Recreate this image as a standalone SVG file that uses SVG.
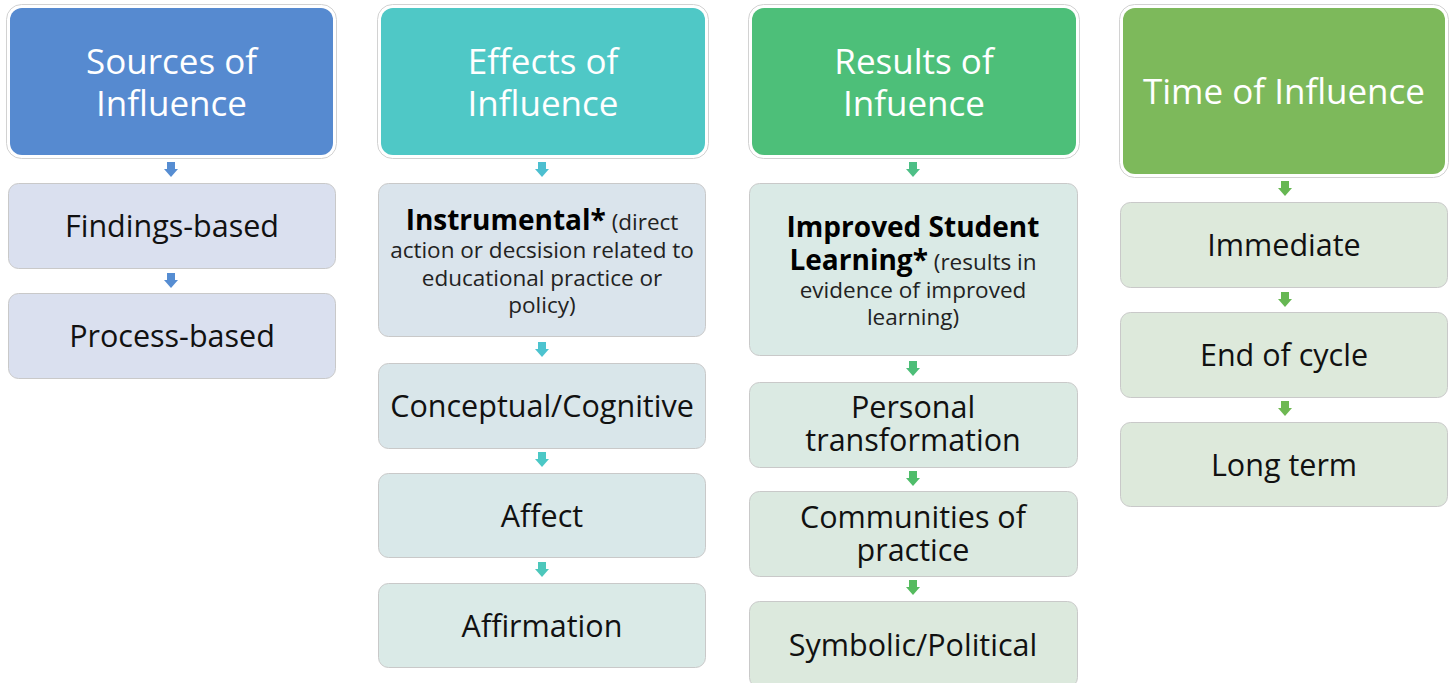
<svg xmlns="http://www.w3.org/2000/svg" width="1450" height="683" viewBox="0 0 1450 683">
<defs>
<style>
.hdrO{fill:#ffffff;stroke:#d2d2d2;stroke-width:1}
.hdrT{font-family:"Open Sans","Noto Sans",sans-serif;font-size:35px;fill:#ffffff;text-anchor:middle}
.box{stroke:#c9c9c9;stroke-width:1}
.t{font-family:"Open Sans","Noto Sans",sans-serif;font-size:30.5px;fill:#111111;text-anchor:middle}
.s{font-family:"Open Sans","Noto Sans",sans-serif;font-size:22.5px;fill:#222222;text-anchor:middle}
.b{font-weight:bold;font-size:28px;fill:#000000}
</style>
<path id="arr" d="M-4,0 H4 V7 H7 L0,15 L-7,7 H-4 Z"/>
</defs>
<rect width="1450" height="683" fill="#ffffff"/>

<g id="connectors">
<use href="#arr" x="171" y="162" fill="#568dd2"/>
<use href="#arr" x="171" y="273" fill="#568dd2"/>
<use href="#arr" x="542" y="162" fill="#4cbfd0"/>
<use href="#arr" x="542" y="342" fill="#4cc3cf"/>
<use href="#arr" x="542" y="452" fill="#4bc8c6"/>
<use href="#arr" x="542" y="562" fill="#4cc7bb"/>
<use href="#arr" x="913" y="162" fill="#4dbf86"/>
<use href="#arr" x="913" y="361" fill="#4dbe78"/>
<use href="#arr" x="913" y="471" fill="#4fbd6a"/>
<use href="#arr" x="913" y="580" fill="#55bb5e"/>
<use href="#arr" x="1285" y="181" fill="#66b752"/>
<use href="#arr" x="1285" y="292" fill="#66b752"/>
<use href="#arr" x="1285" y="401" fill="#6eb852"/>
</g>

<g id="h1">
<rect class="hdrO" x="6.5" y="4.5" width="330" height="154" rx="15"/>
<rect x="10" y="8" width="323" height="147" rx="12" fill="#568ad0"/>
<text class="hdrT" x="171.5" y="74">Sources of<tspan x="171.5" dy="42">Influence</tspan></text>
</g>
<g id="n1a">
<rect class="box" x="8.5" y="183.5" width="327" height="85" rx="10" fill="#dae0ef"/>
<text class="t" x="172" y="237">Findings-based</text>
</g>
<g id="n1b">
<rect class="box" x="8.5" y="293.5" width="327" height="85" rx="10" fill="#dae0ef"/>
<text class="t" x="172" y="347">Process-based</text>
</g>

<g id="h2">
<rect class="hdrO" x="377.5" y="4.5" width="331" height="154" rx="15"/>
<rect x="381" y="8" width="324" height="147" rx="12" fill="#4fc8c6"/>
<text class="hdrT" x="543" y="74">Effects of<tspan x="543" dy="42">Influence</tspan></text>
</g>
<g id="n2a">
<rect class="box" x="378.5" y="183.5" width="327" height="153" rx="10" fill="#dae4ec"/>
<text class="s" x="542" y="230"><tspan class="b">Instrumental*</tspan> (direct<tspan x="542" dy="28">action or decsision related to</tspan><tspan x="542" dy="28">educational practice or</tspan><tspan x="542" dy="27">policy)</tspan></text>
</g>
<g id="n2b">
<rect class="box" x="378.5" y="363.5" width="327" height="85" rx="10" fill="#d9e6ea"/>
<text class="t" x="542" y="417">Conceptual/Cognitive</text>
</g>
<g id="n2c">
<rect class="box" x="378.5" y="473.5" width="327" height="84" rx="10" fill="#d9e8e9"/>
<text class="t" x="542" y="527">Affect</text>
</g>
<g id="n2d">
<rect class="box" x="378.5" y="583.5" width="327" height="84" rx="10" fill="#daeae7"/>
<text class="t" x="542" y="637">Affirmation</text>
</g>

<g id="h3">
<rect class="hdrO" x="748.5" y="4.5" width="331" height="154" rx="15"/>
<rect x="752" y="8" width="324" height="147" rx="12" fill="#4dbf79"/>
<text class="hdrT" x="914" y="74">Results of<tspan x="914" dy="42">Infuence</tspan></text>
</g>
<g id="n3a">
<rect class="box" x="749.5" y="183.5" width="328" height="172" rx="10" fill="#daeae6"/>
<text class="s" x="913" y="237"><tspan class="b">Improved Student</tspan><tspan x="913" dy="33" class="b">Learning*</tspan> (results in<tspan x="913" dy="28">evidence of improved</tspan><tspan x="913" dy="27">learning)</tspan></text>
</g>
<g id="n3b">
<rect class="box" x="749.5" y="382.5" width="328" height="85" rx="10" fill="#dbeae3"/>
<text class="t" x="913" y="418">Personal<tspan x="913" dy="33">transformation</tspan></text>
</g>
<g id="n3c">
<rect class="box" x="749.5" y="491.5" width="328" height="85" rx="10" fill="#dbe9e0"/>
<text class="t" x="913" y="528">Communities of<tspan x="913" dy="33">practice</tspan></text>
</g>
<g id="n3d">
<rect class="box" x="749.5" y="601.5" width="328" height="86" rx="10" fill="#dce9dd"/>
<text class="t" x="913" y="656">Symbolic/Political</text>
</g>

<g id="h4">
<rect class="hdrO" x="1119.5" y="4.5" width="329" height="173" rx="15"/>
<rect x="1123" y="8" width="322" height="166" rx="12" fill="#7db95b"/>
<text class="hdrT" x="1284" y="104">Time of Influence</text>
</g>
<g id="n4a">
<rect class="box" x="1120.5" y="202.5" width="327" height="85" rx="10" fill="#dde9db"/>
<text class="t" x="1284" y="256">Immediate</text>
</g>
<g id="n4b">
<rect class="box" x="1120.5" y="312.5" width="327" height="85" rx="10" fill="#dde9db"/>
<text class="t" x="1284" y="366">End of cycle</text>
</g>
<g id="n4c">
<rect class="box" x="1120.5" y="422.5" width="327" height="84" rx="10" fill="#dde9db"/>
<text class="t" x="1284" y="476">Long term</text>
</g>
</svg>
